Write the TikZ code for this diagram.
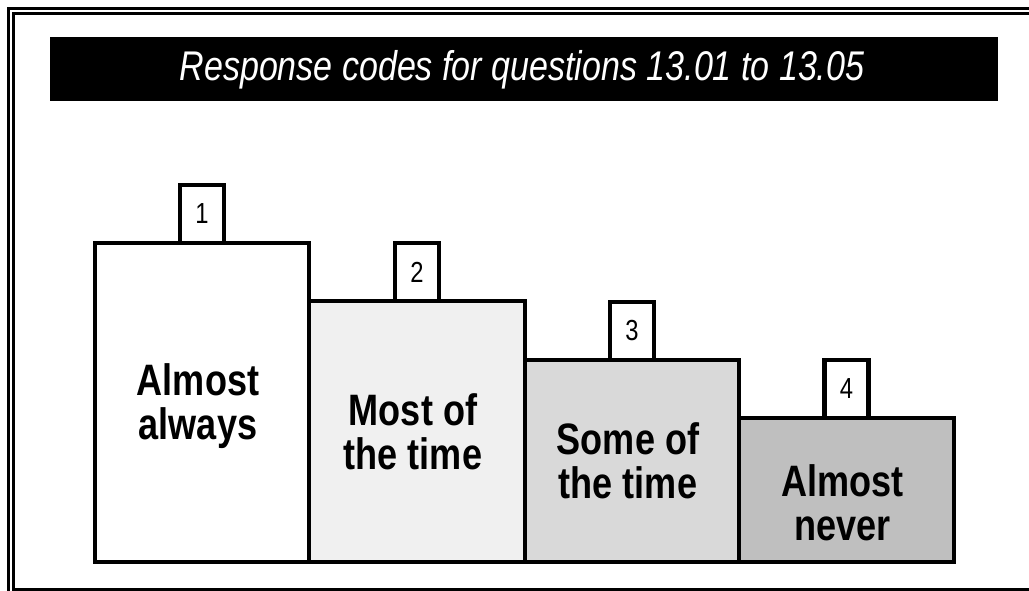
\documentclass[tikz,border=0pt]{standalone}
\usepackage{fontspec}
\newfontfamily\narrow[FakeStretch=0.82]{Liberation Sans}
\begin{document}
\begin{tikzpicture}[x=1pt,y=-1pt,
  box/.style={draw=black,line width=4.5pt,outer sep=0pt,inner sep=0pt,anchor=north west},
  tabbox/.style={draw=black,fill=white,line width=4.5pt,outer sep=0pt,inner sep=0pt,
     minimum width=44pt,minimum height=58pt,anchor=south,
     font=\narrow\fontsize{29}{30}\selectfont},
  lbl/.style={align=center,font=\narrow\bfseries\fontsize{44}{44}\selectfont},
  frame/.style={line width=3.3pt}]
\useasboundingbox (0,0) rectangle (1029,591);
\fill[white] (0,0) rectangle (1029,591);
% frame
\draw[frame] (8.5,600) -- (8.5,8.5) -- (1040,8.5);
\draw[frame] (1040,13.7) -- (13.7,13.7) -- (13.7,589.5) -- (1040,589.5);
% title bar
\node[fill=black,minimum width=948pt,minimum height=64pt,inner sep=0pt,outer sep=0pt,anchor=north west] (bar) at (50,37) {};
\node[text=white,font=\narrow\itshape\fontsize{41.5}{41.5}\selectfont] (title) at (522,70) {Response codes for questions 13.01 to 13.05};
% boxes
\node[box,fill=white,minimum width=214pt,minimum height=319pt] (b1) at (95,243) {};
\node[box,fill=black!6,minimum width=216pt,minimum height=261pt] (b2) at (309,301) {};
\node[box,fill=black!15,minimum width=214pt,minimum height=202pt] (b3) at (525,360) {};
\node[box,fill=black!25,minimum width=215pt,minimum height=144pt] (b4) at (739,418) {};
% tabs
\node[tabbox] (n1) at (b1.north) {1};
\node[tabbox] (n2) at (b2.north) {2};
\node[tabbox] (n3) at (b3.north) {3};
\node[tabbox] (n4) at (b4.north) {4};
% labels
\node[lbl] (l1) at ([xshift=-4pt,yshift=-4pt]b1.center) {Almost\\always};
\node[lbl] (l2) at ([xshift=-4pt]b2.center) {Most of\\the time};
\node[lbl] (l3) at ([xshift=-4pt]b3.center) {Some of\\the time};
\node[lbl] (l4) at ([xshift=-4pt,yshift=-13pt]b4.center) {Almost\\never};
\end{tikzpicture}
\end{document}
